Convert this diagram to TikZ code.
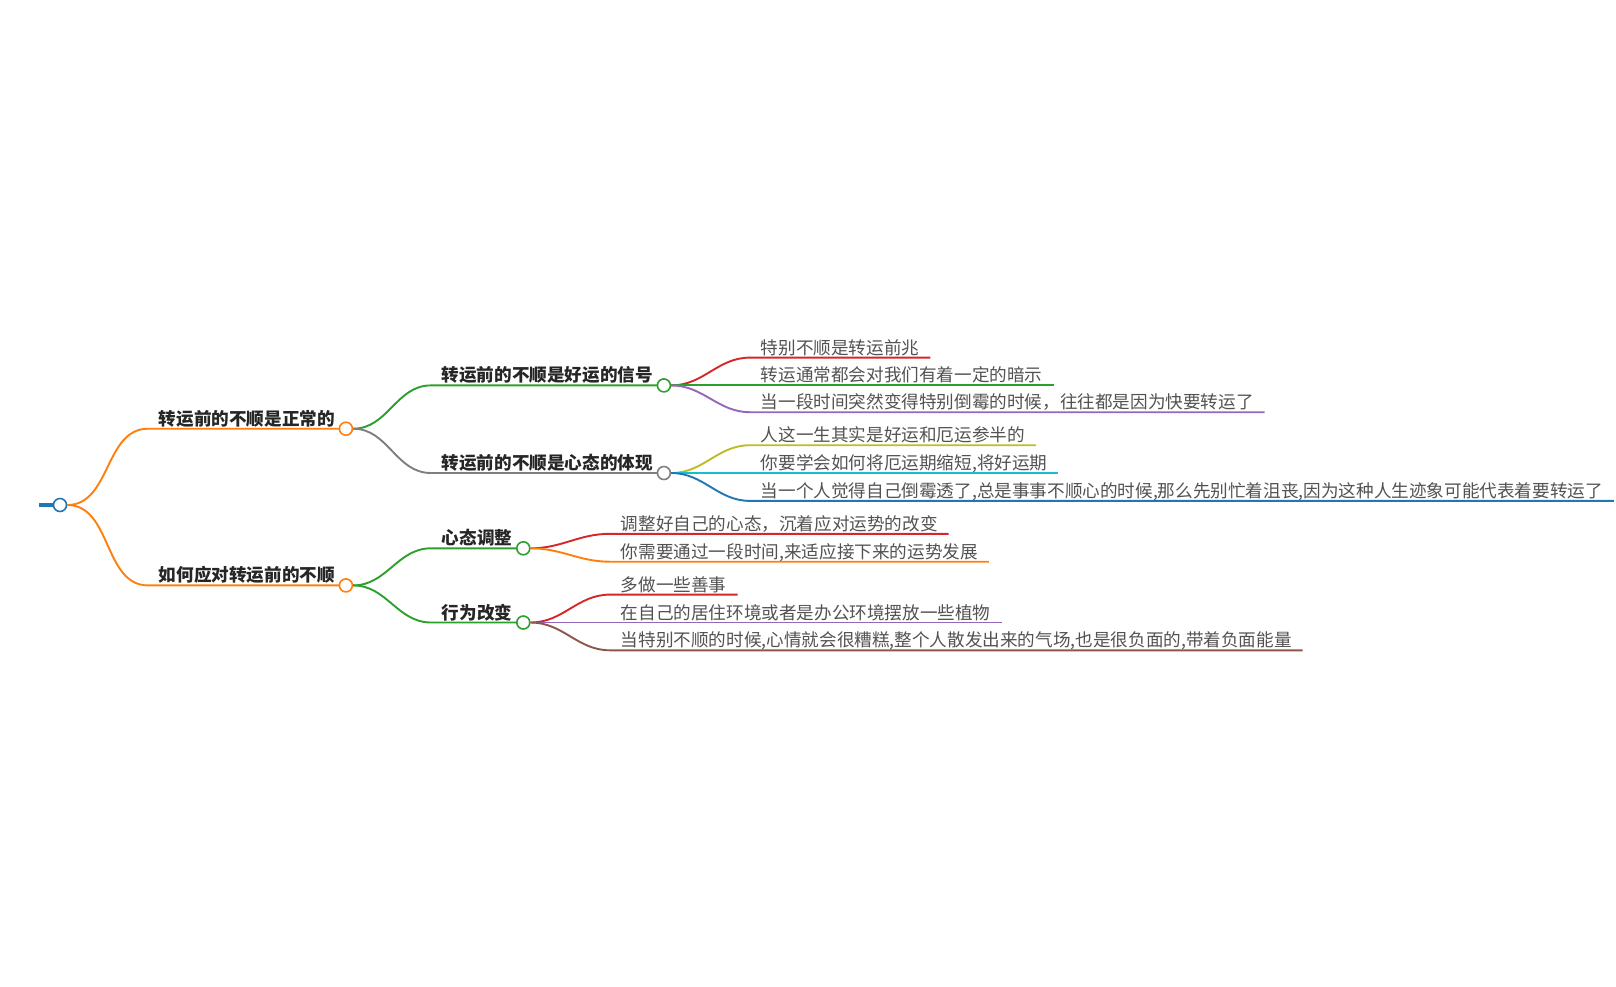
\documentclass[tikz,border=0pt]{standalone}
\usepackage{fontspec}
\setmainfont{Noto Sans CJK SC}
\usetikzlibrary{calc}

\definecolor{tblue}{HTML}{1F77B4}
\definecolor{torange}{HTML}{FF7F0E}
\definecolor{tgreen}{HTML}{2CA02C}
\definecolor{tred}{HTML}{D62728}
\definecolor{tpurple}{HTML}{9467BD}
\definecolor{tbrown}{HTML}{8C564B}
\definecolor{tgray}{HTML}{7F7F7F}
\definecolor{tolive}{HTML}{BCBD22}
\definecolor{tcyan}{HTML}{17BECF}

\begin{document}
\begin{tikzpicture}[x=1pt,y=-1pt,line width=1.9pt,
  topic/.style={anchor=south west,inner xsep=10pt,inner ysep=2.5pt,text depth=0pt,
    font=\fontsize{17.6}{20}\selectfont\bfseries,text=black!85},
  leaf/.style={anchor=south west,inner xsep=10pt,inner ysep=2.5pt,text depth=0pt,
    font=\fontsize{17.6}{20}\selectfont,text=black!68},
  knot/.style={circle,draw,fill=white,line width=1.6pt,minimum size=13pt,inner sep=0pt},
  link/.style={out=0,in=180}]
  \useasboundingbox (0,0) rectangle (1616,986);

  % ===== root =====
  \coordinate (stub) at (39,505);
  \node[knot,draw=tblue] (root) at (60,505) {};
  \draw[tblue,line width=4pt] (stub) -- (root.west);

  % ===== first level =====
  \node[topic] (normal) at (148,428.7) {转运前的不顺是正常的};
  \node[topic] (cope) at (148,585.4) {如何应对转运前的不顺};
  \draw[torange] (root.east) to[link] (normal.south west) -- (normal.south east);
  \draw[torange] (root.east) to[link] (cope.south west) -- (cope.south east);
  \node[knot,draw=torange] (normal-k) at (normal.south east) {};
  \node[knot,draw=torange] (cope-k) at (cope.south east) {};

  % ===== second level =====
  \node[topic] (luck) at (430.8,385.4) {转运前的不顺是好运的信号};
  \node[topic] (mind) at (430.8,473) {转运前的不顺是心态的体现};
  \node[topic] (adjust) at (431,548.3) {心态调整};
  \node[topic] (act) at (431,622.5) {行为改变};
  \draw[tgreen] (normal-k.east) to[link] (luck.south west) -- (luck.south east);
  \draw[tgray] (normal-k.east) to[link] (mind.south west) -- (mind.south east);
  \draw[tgreen] (cope-k.east) to[link] (adjust.south west) -- (adjust.south east);
  \draw[tgreen] (cope-k.east) to[link] (act.south west) -- (act.south east);
  \node[knot,draw=tgreen] (luck-k) at (luck.south east) {};
  \node[knot,draw=tgray] (mind-k) at (mind.south east) {};
  \node[knot,draw=tgreen] (adjust-k) at (adjust.south east) {};
  \node[knot,draw=tgreen] (act-k) at (act.south east) {};

  % ===== leaves: signal of luck =====
  \node[leaf] (luck-a) at (750,357.6) {特别不顺是转运前兆};
  \node[leaf] (luck-b) at (750,385.4) {转运通常都会对我们有着一定的暗示};
  \node[leaf] (luck-c) at (750,412.2) {当一段时间突然变得特别倒霉的时候，往往都是因为快要转运了};
  \draw[tred] (luck-k.east) to[link] (luck-a.south west) -- (luck-a.south east);
  \draw[tgreen] (luck-k.east) to[link] (luck-b.south west) -- (luck-b.south east);
  \draw[tpurple] (luck-k.east) to[link] (luck-c.south west) -- (luck-c.south east);

  % ===== leaves: state of mind =====
  \node[leaf] (mind-a) at (750,445.2) {人这一生其实是好运和厄运参半的};
  \node[leaf] (mind-b) at (750,473) {你要学会如何将厄运期缩短,将好运期};
  \node[leaf] (mind-c) at (750,500.9) {当一个人觉得自己倒霉透了,总是事事不顺心的时候,那么先别忙着沮丧,因为这种人生迹象可能代表着要转运了};
  \draw[tolive] (mind-k.east) to[link] (mind-a.south west) -- (mind-a.south east);
  \draw[tcyan] (mind-k.east) to[link] (mind-b.south west) -- (mind-b.south east);
  \draw[tblue] (mind-k.east) to[link] (mind-c.south west) -- (mind-c.south east);

  % ===== leaves: adjust =====
  \node[leaf] (adjust-a) at (610,533.8) {调整好自己的心态，沉着应对运势的改变};
  \node[leaf] (adjust-b) at (610,561.7) {你需要通过一段时间,来适应接下来的运势发展};
  \draw[tred] (adjust-k.east) to[link] (adjust-a.south west) -- (adjust-a.south east);
  \draw[torange] (adjust-k.east) to[link] (adjust-b.south west) -- (adjust-b.south east);

  % ===== leaves: behaviour =====
  \node[leaf] (act-a) at (610,594.6) {多做一些善事};
  \node[leaf] (act-b) at (610,622.5) {在自己的居住环境或者是办公环境摆放一些植物};
  \node[leaf] (act-c) at (610,650.3) {当特别不顺的时候,心情就会很糟糕,整个人散发出来的气场,也是很负面的,带着负面能量};
  \draw[tred] (act-k.east) to[link] (act-a.south west) -- (act-a.south east);
  \draw[tpurple] (act-k.east) to[link] (act-b.south west) -- (act-b.south east);
  \draw[tbrown] (act-k.east) to[link] (act-c.south west) -- (act-c.south east);
\end{tikzpicture}
\end{document}
